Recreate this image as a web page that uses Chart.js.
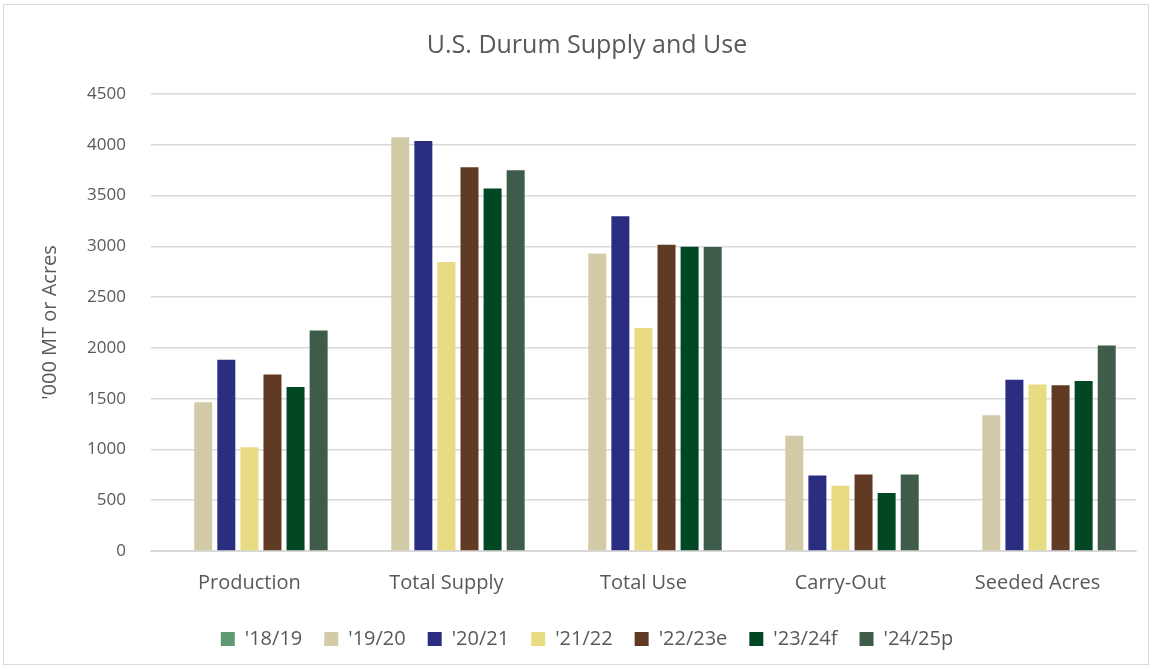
<!DOCTYPE html>
<html><head><meta charset="utf-8">
<script src="https://cdn.jsdelivr.net/npm/chart.js@4.4.1/dist/chart.umd.min.js"></script>
<style>
html,body{margin:0;padding:0;background:#fff;}
#wrap{position:absolute;left:3px;top:4px;width:1146px;height:661px;border:1px solid #d9d9d9;box-sizing:border-box;}
#c{position:absolute;left:0;top:0;}
</style></head><body>
<div id="wrap"><canvas id="c" width="1144" height="659"></canvas></div>
<script>
const categories = ["Production","Total Supply","Total Use","Carry-Out","Seeded Acres"];
const seriesNames = ["'18/19","'19/20","'20/21","'21/22","'22/23e","'23/24f","'24/25p"];
const s1819 = [null,null,null,null,null];
const s1920 = [1465,4074,2930,1136,1336];
const s2021 = [1883,4037,3295,743,1686];
const s2122 = [1022,2846,2197,642,1640];
const s2223 = [1739,3779,3016,753,1631];
const s2324 = [1614,3569,2996,570,1673];
const s2425 = [2171,3749,2993,753,2024];
const yTicks = [0,500,1000,1500,2000,2500,3000,3500,4000,4500];
const colors = ["#5f9a73","#d3caa8","#2b2d80","#e8dc83","#603a22","#024723","#3e5c49"];
const allSeries = [s1819,s1920,s2021,s2122,s2223,s2324,s2425];

const txt = "#595959";
const fontFam = "'Open Sans', 'Liberation Sans', sans-serif";
new Chart(document.getElementById('c'), {
  type: 'bar',
  data: {
    labels: categories,
    datasets: allSeries.map((d,i)=>({label: seriesNames[i], data: d, backgroundColor: colors[i], borderWidth: 0}))
  },
  options: {
    responsive: false,
    animation: false,
    layout: {padding: {left: 34, right: 12, top: 26, bottom: 5}},
    datasets: {bar: {barPercentage: 0.78, categoryPercentage: 0.82}},
    plugins: {
      title: {display: true, text: "U.S. Durum Supply and Use", color: txt,
        font: {family: fontFam, size: 25, weight: 'normal'}, padding: {top: 0, bottom: 33}},
      legend: {position: 'bottom', labels: {color: txt, boxWidth: 14, boxHeight: 14, padding: 22,
        font: {family: fontFam, size: 20}}},
      tooltip: {enabled: false}
    },
    scales: {
      x: {grid: {display: false}, border: {display: true, color: '#d9d9d9'},
        ticks: {color: txt, font: {family: fontFam, size: 20}, padding: 12}},
      y: {min: 0, max: 4500, afterBuildTicks: (ax)=>{ax.ticks = yTicks.map(v=>({value:v}));},
        grid: {color: '#d9d9d9', lineWidth: 1.5, drawTicks: false}, border: {display: false},
        ticks: {color: txt, font: {family: fontFam, size: 17}, padding: 25, callback: (v)=>String(v)},
        title: {display: true, text: "'000 MT or Acres", color: txt, font: {family: fontFam, size: 20}, padding: {top: 0, bottom: 0}}}
    }
  }
});
</script></body></html>
